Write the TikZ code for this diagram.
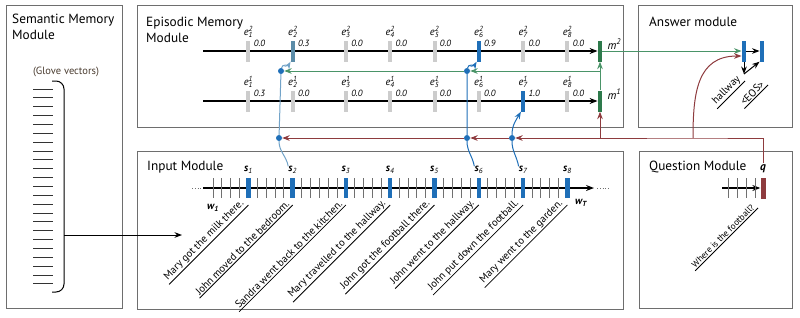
\documentclass[tikz,border=0pt]{standalone}
\usepackage{fontspec}
\setmainfont{PT Sans}
\usetikzlibrary{arrows.meta,positioning}
\definecolor{dmnblue}{HTML}{1F6FB8}
\definecolor{dmnsteel}{HTML}{5B8CA8}
\definecolor{dmnpale}{HTML}{72A3C8}
\definecolor{dmngreen}{HTML}{2E7A4C}
\definecolor{dmnlgreen}{HTML}{4A9468}
\definecolor{dmnred}{HTML}{8E3B3E}
\definecolor{barg}{HTML}{CCCCCC}
\definecolor{tickg}{HTML}{707070}
\definecolor{boxg}{HTML}{6E6E6E}
\definecolor{glovec}{HTML}{4A3C30}

\newcommand{\ev}[2]{\textit{e}\rlap{\textsuperscript{\itshape #1}}\textsubscript{\itshape #2}}
\newcommand{\sv}[1]{\textbf{\textit{s}}\textsubscript{\itshape #1}}

\tikzset{
  modbox/.style={draw=boxg, line width=0.9pt},
  modtitle/.style={anchor=north west, inner sep=0pt, align=left, font=\fontsize{13.3}{15.5}\selectfont},
  gbar/.style={fill=#1, minimum width=4pt, minimum height=21pt, inner sep=0pt},
  gbar/.default=barg,
  sbar/.style={fill=dmnblue, minimum width=4.5pt, minimum height=20pt, inner sep=0pt},
  mbar/.style={fill=dmngreen, minimum width=4.5pt, minimum height=21pt, inner sep=0pt},
  abar/.style={fill=dmnblue, minimum width=4.5pt, minimum height=21pt, inner sep=0pt},
  qbar/.style={fill=dmnred, minimum width=5pt, minimum height=21pt, inner sep=0pt},
  elbl/.style={font=\fontsize{10.5}{10}\selectfont, inner sep=0pt},
  vlbl/.style={font=\itshape\fontsize{9}{9}\selectfont, inner sep=0pt, anchor=north west},
  sent/.style={rotate=45, anchor=south east, inner xsep=2pt, inner ysep=1.5pt, font=\fontsize{10.5}{10}\selectfont},
  attdot/.style={circle, fill=dmnblue, minimum size=6pt, inner sep=0pt},
  rowline/.style={line width=1.1pt},
  tickline/.style={tickg, line width=0.8pt},
  grnline/.style={dmnlgreen, line width=1pt},
  redline/.style={dmnred, line width=1pt},
  attline/.style={dmnblue, line width=1pt},
}

\begin{document}
\begin{tikzpicture}[>=Stealth, x=1pt, y=1pt, font=\fontsize{9}{10}\selectfont]
\useasboundingbox (0,0) rectangle (800,-317);

% --- module boxes ---
\draw[modbox] (6,-5) rectangle (122,-308);
\draw[modbox] (137,-5) rectangle (623,-127);
\draw[modbox] (638,-5) rectangle (792,-127);
\draw[modbox] (137,-151) rectangle (623,-309);
\draw[modbox] (639,-151) rectangle (792,-308);

% --- titles ---
\node[modtitle] (semttl) at (12,-14) {Semantic Memory\\Module};
\node[modtitle] (epittl) at (146,-17) {Episodic Memory\\Module};
\node[modtitle] (ansttl) at (649,-17) {Answer module};
\node[modtitle] (inpttl) at (147,-161) {Input Module};
\node[modtitle] (qstttl) at (649,-161) {Question Module};

% --- semantic memory: glove vectors ---
\node[glovec, font=\fontsize{10.5}{10}\selectfont] (glove) at (66,-72) {(Glove vectors)};
\foreach \i in {0,...,22}
  \draw[line width=0.9pt, black!80] (33,-89-8.86*\i) -- (53,-89-8.86*\i);
\draw[line width=1pt, rounded corners=8pt] (52,-81) -- (64,-81) -- (64,-292) -- (52,-292);
\coordinate (brk) at (64,-235);
\coordinate (inarr) at (182,-235);
\draw[line width=1pt,->] (brk) -- (inarr);

% --- input module: word axis ---
\coordinate (axs) at (203,-188);
\coordinate (axe) at (594,-188);
\draw[rowline,->] (axs) -- (axe);
\draw[tickg, dotted, line width=0.8pt] (192,-188) -- (201,-188);
\draw[tickg, dotted, line width=0.8pt] (597,-188) -- (609,-188);
\foreach \k in {0,...,40}
  \draw[tickline] (213+8.86*\k,-178) -- (213+8.86*\k,-198);
\node[font=\bfseries\itshape\fontsize{10.5}{10}\selectfont] (w1) at (213,-208) {w\textsubscript{1}};
\node[font=\bfseries\itshape\fontsize{10.5}{10}\selectfont] (wT) at (581,-203) {w\textsubscript{T}};

% --- input module: sentences ---
\foreach \k/\i/\txt in {4/1/Mary got the milk there., 9/2/John moved to the bedroom.,
    15/3/Sandra went back to the kitchen., 20/4/Mary travelled to the hallway.,
    25/5/John got the football there., 30/6/John went to the hallway.,
    35/7/John put down the football., 40/8/Mary went to the garden.}{
  \node[sbar] (s\i) at (213+8.86*\k,-188) {};
  \node[elbl, above=4pt of s\i] (sl\i) {\sv{\i}};
  \node[sent] (t\i) at (213+8.86*\k,-205) {\txt};
  \draw[line width=0.8pt] (t\i.south west) -- (t\i.south east);
}

% --- episodic memory: two passes ---
\node[mbar] (m2) at (600,-51) {};
\node[mbar] (m1) at (600,-101) {};
\node[font=\itshape\fontsize{11.5}{10}\selectfont, inner sep=0pt, anchor=west] (m2l) at ([xshift=5pt,yshift=-4pt]m2.north east) {m\textsuperscript{2}};
\node[font=\itshape\fontsize{11.5}{10}\selectfont, inner sep=0pt, anchor=west] (m1l) at ([xshift=5pt,yshift=-4pt]m1.north east) {m\textsuperscript{1}};
\coordinate (rowt) at (203,-51);
\coordinate (rowb) at (203,-101);
\draw[rowline,->] (rowt) -- (m2);
\draw[rowline,->] (rowb) -- (m1);
\foreach \k/\i/\vt/\vb/\ct/\cb in {4/1/0.0/0.3/barg/barg, 9/2/0.3/0.0/dmnsteel/barg,
    15/3/0.0/0.0/barg/barg, 20/4/0.0/0.0/barg/barg, 25/5/0.0/0.0/barg/barg,
    30/6/0.9/0.0/dmnblue/barg, 35/7/0.0/1.0/barg/dmnblue, 40/8/0.0/0.0/barg/barg}{
  \node[gbar=\ct] (et\i) at (213+8.86*\k,-51) {};
  \node[gbar=\cb] (eb\i) at (213+8.86*\k,-101) {};
  \node[elbl, above=3pt of et\i] (etl\i) {\ev{2}{\i}};
  \node[elbl, above=3pt of eb\i] (ebl\i) {\ev{1}{\i}};
  \node[vlbl] (etv\i) at ([xshift=3pt]et\i.north east) {\vt};
  \node[vlbl] (ebv\i) at ([xshift=3pt]eb\i.north east) {\vb};
}

% --- attention dots ---
\node[attdot] (d2g) at (281,-71) {};
\node[attdot] (d6g) at (467,-71) {};
\node[attdot] (d2r) at (279,-138) {};
\node[attdot] (d6r) at (467,-138) {};
\node[attdot] (d7r) at (512,-138) {};

% --- memory update (green) ---
\coordinate (gj) at (600,-71);
\draw[grnline,->] (m1) -- (m2);
\draw[grnline,->] (gj) -- (d6g);
\draw[grnline,->] (d6g) -- (d2g);

% --- question module ---
\node[qbar] (qv) at (763,-188) {};
\node[font=\bfseries\itshape\fontsize{11.5}{10}\selectfont, inner sep=0pt, above=4pt of qv] (ql) {q};
\coordinate (qs) at (722,-188);
\draw[rowline,->] (qs) -- (qv);
\foreach \x in {728,737,746,755}
  \draw[tickline] (\x,-178) -- (\x,-198);
\node[sent, font=\fontsize{9}{9}\selectfont] (tq) at (758,-208) {Where is the football?};
\draw[line width=0.8pt] (tq.south west) -- (tq.south east);

% --- question vector (red) ---
\coordinate (rjA) at (693,-138);
\coordinate (rjM) at (600,-138);
\draw[redline] ([yshift=2pt]ql.north) |- (rjA) -- (rjM);
\draw[redline,->] (rjM) -- (m1);
\draw[redline,->] (rjM) -- (d7r);
\draw[redline,->] (d7r) -- (d6r);
\draw[redline,->] (d6r) -- (d2r);

% --- attention paths (blue) ---
\draw[dmnpale, line width=1pt,->] (sl2.north west) to[out=100,in=-90] (d2r) -- (d2g)
      to[out=80,in=240] (et2.south west);
\draw[attline,->] (sl6.north west) to[out=100,in=-90] (d6r) -- (d6g)
      to[out=80,in=240] (et6.south west);
\draw[attline,->] (sl7.north west) to[out=100,in=-90] (d7r)
      to[out=90,in=240] (eb7.south west);

% --- answer module ---
\node[abar] (a1) at (744,-51) {};
\node[abar] (a2) at (762,-51) {};
\draw[grnline,->] (m2) -- (a1);
\draw[redline,->] (rjA) to[out=90,in=180,looseness=1.2] ([yshift=-5pt]a1.west);
\draw[line width=1pt,->] (a1) -- (a2);
\coordinate (aw) at (744,-74);
\draw[line width=1pt,->] (a1) -- (aw);
\draw[line width=1pt,->] (aw) -- (a2.south west);
\node[sent] (whall) at (745,-81) {hallway};
\draw[line width=0.8pt] (whall.south west) -- (whall.south east);
\node[sent] (weos) at (768,-85) {<EOS>};
\draw[line width=0.8pt] (weos.south west) -- (weos.south east);

\end{tikzpicture}
\end{document}
